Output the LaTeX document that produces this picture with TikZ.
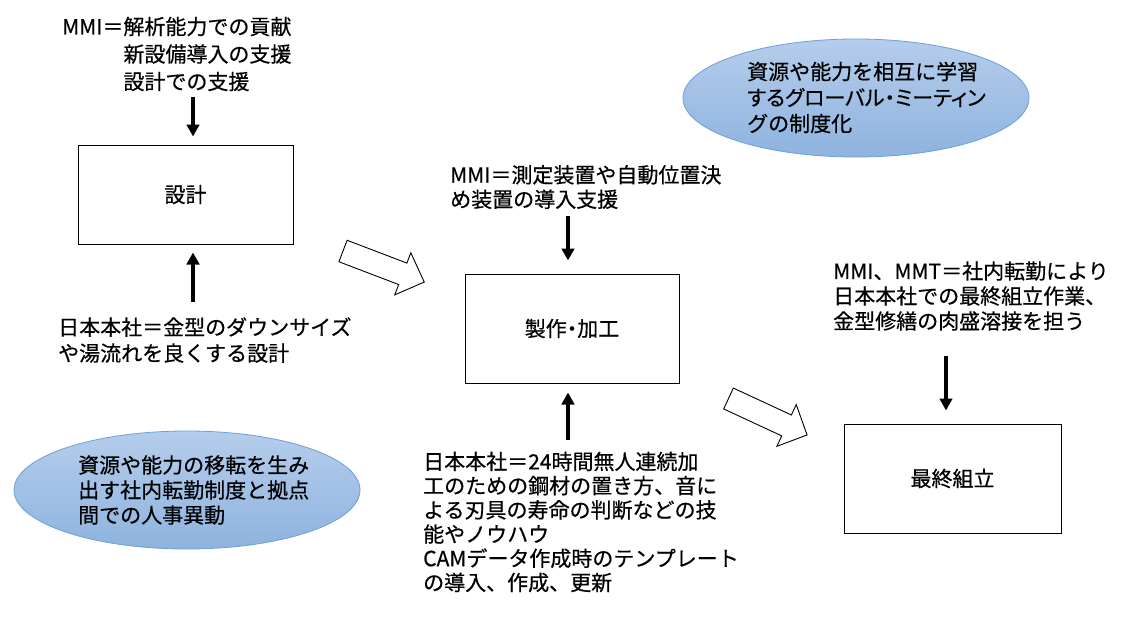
\documentclass[tikz,border=0pt]{standalone}
\usepackage{fontspec}
\setmainfont{Noto Sans CJK JP}[FakeBold=0.5]
\newfontfamily\paltfont{Noto Sans CJK JP}[FakeBold=0.5,RawFeature=+palt]
\usetikzlibrary{shapes.geometric,arrows.meta}
\definecolor{elltop}{HTML}{B5CDEB}
\definecolor{ellbot}{HTML}{8EB3DF}
\definecolor{elldraw}{HTML}{6E9FD6}
\tikzset{
  txt/.style={inner sep=0pt, align=left, anchor=west, font=\fontsize{21pt}{24.5pt}\selectfont},
  boxn/.style={draw, line width=1pt, inner sep=0pt, font=\fontsize{21pt}{24.5pt}\selectfont},
  ell/.style={ellipse, draw=elldraw, line width=0.8pt, top color=elltop, bottom color=ellbot, minimum width=346pt, minimum height=118pt, inner sep=0pt},
  arr/.style={line width=3.2pt, -{Triangle[length=12pt,width=12.5pt]}},
  blockarrow/.style={draw, line width=0.9pt, fill=white, line join=miter},
}
\begin{document}
\begin{tikzpicture}[x=1pt,y=-1pt]
\useasboundingbox[fill=white] (0,0) rectangle (1126,626);

% ellipses
\node[ell] (e1) at (856,98) {};
\node[ell] (e2) at (187,490) {};
\node[txt, font=\fontsize{21pt}{26pt}\selectfont] (e1t) at (747,97.5) {資源や能力を相互に学習\\{\paltfont するグローバル・ミーティン}\\グの制度化};
\node[txt, font=\fontsize{21pt}{25pt}\selectfont] (e2t) at (78,490) {資源や能力の移転を生み\\出す社内転勤制度と拠点\\間での人事異動};

% boxes
\node[boxn, minimum width=215pt, minimum height=99pt] (d1) at (185.5,194.5) {設計};
\node[boxn, minimum width=214pt, minimum height=109pt] (d2) at (572,328.5) {製作{\paltfont ・}加工};
\node[boxn, minimum width=217pt, minimum height=109pt] (d3) at (952.5,478.5) {最終組立};

% texts
\node[txt, font=\fontsize{21pt}{27.5pt}\selectfont] (t1) at (62,54) {MMI＝解析能力での貢献\\\phantom{MMI＝}新設備導入の支援\\\phantom{MMI＝}設計での支援};
\node[txt, font=\fontsize{21pt}{26pt}\selectfont] (t2) at (58,340) {日本本社＝金型のダウンサイズ\\や湯流れを良くする設計};
\node[txt] (t3) at (450,187) {MMI＝測定装置や自動位置決\\め装置の導入支援};
\node[txt, font=\fontsize{21pt}{24.2pt}\selectfont] (t4) at (423,522) {日本本社＝24時間無人連続加\\工のための鋼材の置き方、音に\\よる刃具の寿命の判断などの技\\能やノウハウ\\CAMデータ作成時のテンプレート\\の導入、作成、更新};
\node[txt, font=\fontsize{21pt}{25pt}\selectfont] (t5) at (833,296) {MMI、MMT＝社内転勤により\\日本本社での最終組立作業、\\金型修繕の肉盛溶接を担う};

% arrows
\coordinate (a1s) at (193,97);
\coordinate (a2s) at (193,302);
\coordinate (a3s) at (568,216);
\coordinate (a4s) at (568,440);
\coordinate (a5s) at (946,356);
\draw[arr, shorten >=8pt] (a1s) -- (a1s |- d1.north);
\draw[arr, shorten >=8pt] (a2s) -- (a2s |- d1.south);
\draw[arr, shorten >=13pt] (a3s) -- (a3s |- d2.north);
\draw[arr, shorten >=9pt] (a4s) -- (a4s |- d2.south);
\draw[arr, shorten >=13pt] (a5s) -- (a5s |- d3.north);

% block arrows
\begin{scope}[shift={(343,251)}, rotate=-20.9]
\draw[blockarrow] (0pt,11.5pt) -- (64pt,11.5pt) -- (64pt,22.5pt) -- (87pt,0pt) -- (64pt,-22.5pt) -- (64pt,-11.5pt) -- (0pt,-11.5pt) -- cycle;
\end{scope}
\begin{scope}[shift={(728.5,398.5)}, rotate=-24.9]
\draw[blockarrow] (0pt,11.5pt) -- (64pt,11.5pt) -- (64pt,23pt) -- (86.6pt,0pt) -- (64pt,-23pt) -- (64pt,-11.5pt) -- (0pt,-11.5pt) -- cycle;
\end{scope}
\end{tikzpicture}
\end{document}
